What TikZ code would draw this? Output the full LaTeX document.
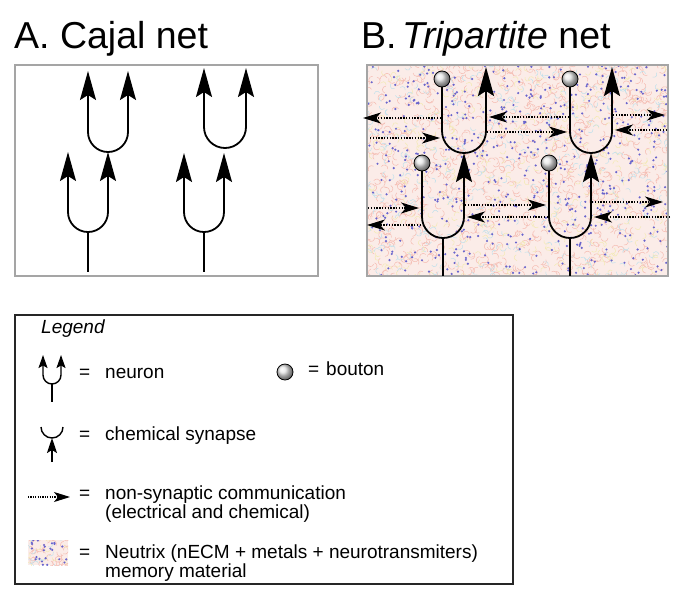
\documentclass[tikz,border=0pt]{standalone}
\usepackage{fontspec}
\setmainfont{Liberation Sans}
\usetikzlibrary{arrows.meta}
\definecolor{boxgray}{RGB}{165,165,165}
\definecolor{neutbg}{RGB}{251,236,232}
\definecolor{squigred}{RGB}{245,188,178}
\definecolor{squigyel}{RGB}{243,234,180}
\definecolor{squigcya}{RGB}{192,225,236}
\definecolor{dotblue}{RGB}{105,100,205}
\tikzset{
  bigtip/.tip={Stealth[length=29pt,width=16pt,inset=5pt]},
  dtip/.tip={Stealth[length=18pt,width=11pt,inset=5pt]},
  smalltip/.tip={Stealth[length=13pt,width=9pt,inset=2.5pt]},
  syntip/.tip={Stealth[length=15pt,width=10pt,inset=3pt]},
  legdtip/.tip={Stealth[length=16pt,width=10pt,inset=4pt]}
}
\newcommand\neutrixpatch[7]{%
  \begin{scope}
    \clip (#1,#2) rectangle ++(#3,-#4);
    \fill[neutbg] (#1,#2) rectangle ++(#3,-#4);
    \foreach \i in {1,...,#5}{
      \pgfmathsetmacro\xa{#1-4+(#3+8)*rnd}
      \pgfmathsetmacro\ya{#2+4-(#4+8)*rnd}
      \pgfmathsetmacro\aa{360*rnd}
      \draw[squigred,line width=0.5pt] (\xa,\ya) arc[start angle=\aa,delta angle=160,radius=3.5];
    }
    \foreach \i in {1,...,#6}{
      \pgfmathsetmacro\xa{#1-4+(#3+8)*rnd}
      \pgfmathsetmacro\ya{#2+4-(#4+8)*rnd}
      \pgfmathsetmacro\aa{360*rnd}
      \draw[squigyel,line width=0.5pt] (\xa,\ya) arc[start angle=\aa,delta angle=160,radius=3];
      \pgfmathsetmacro\xb{#1-4+(#3+8)*rnd}
      \pgfmathsetmacro\yb{#2+4-(#4+8)*rnd}
      \draw[squigcya,line width=0.5pt] (\xb,\yb) arc[start angle=\aa,delta angle=150,radius=3];
    }
    \foreach \i in {1,...,#7}{
      \pgfmathsetmacro\xa{#1+#3*rnd}
      \pgfmathsetmacro\ya{#2-#4*rnd}
      \fill[dotblue] (\xa,\ya) circle[radius=1.2];
    }
  \end{scope}}
\begin{document}
\begin{tikzpicture}[x=1pt,y=1pt,
  nline/.style={line width=1.8pt,black,line cap=butt},
  dotarrow/.style={line width=1.3pt,dash pattern=on 1.4pt off 1.4pt,-{dtip}},
  panelbox/.style={draw=boxgray,line width=1.8pt},
  boutonball/.style={ball color=gray!20,draw=black,line width=0.8pt},
  title/.style={anchor=base west,inner sep=0pt,font=\fontsize{37.5}{40}\selectfont},
  ltext/.style={anchor=base west,inner sep=0pt,font=\fontsize{19}{22}\selectfont}]
\useasboundingbox (0,0) rectangle (690,-598);
\pgfmathsetseed{4242}

% ---------- titles ----------
\node[title] (tA) at (14,-48) {A. Cajal net};
\node[title] (tB) at (361,-48) {B.\,\textit{Tripartite} net};

% ---------- panel A ----------
\draw[panelbox] (15,-65) rectangle (318,-276);
% lower-left neuron
\draw[nline,{bigtip}-{bigtip}] (68,-152) -- (68,-212) arc[start angle=180,end angle=360,radius=20] -- (108,-152);
\draw[nline] (88,-232) -- (88,-272);
% upper-left neuron
\draw[nline,{bigtip}-{bigtip}] (88,-71) -- (88,-132) arc[start angle=180,end angle=360,radius=20] -- (128,-71);
% lower-right neuron
\draw[nline,{bigtip}-{bigtip}] (184,-153) -- (184,-212) arc[start angle=180,end angle=360,radius=20] -- (224,-153);
\draw[nline] (204,-232) -- (204,-272);
% upper-right neuron
\draw[nline,{bigtip}-{bigtip}] (204,-68) -- (204,-127) arc[start angle=180,end angle=360,radius=21] -- (246,-68);

% ---------- panel B ----------
\neutrixpatch{367}{-65}{301}{211}{1000}{380}{540}
\draw[panelbox] (367,-65) rectangle (668,-276);
% upper-left
\draw[nline,-{bigtip}] (442,-87) -- (442,-131) arc[start angle=180,end angle=360,radius=22] -- (486,-67);
\shade[boutonball] (442,-79) circle[radius=8];
% upper-right
\draw[nline,-{bigtip}] (570,-87) -- (570,-132) arc[start angle=180,end angle=360,radius=21] -- (612,-67);
\shade[boutonball] (570,-79) circle[radius=8];
% lower-left
\draw[nline,-{bigtip}] (422,-171) -- (422,-217) arc[start angle=180,end angle=360,radius=21] -- (464,-153);
\draw[nline] (443,-238) -- (443,-276);
\shade[boutonball] (422,-163) circle[radius=8];
% lower-right
\draw[nline,-{bigtip}] (549,-171) -- (549,-217) arc[start angle=180,end angle=360,radius=21] -- (591,-153);
\draw[nline] (570,-238) -- (570,-276);
\shade[boutonball] (549,-163) circle[radius=8];

% dotted non-synaptic arrows
\coordinate (d1a) at (441,-118); \coordinate (d1b) at (363,-118);
\coordinate (d2a) at (569,-117); \coordinate (d2b) at (489,-117);
\coordinate (d3a) at (613,-115); \coordinate (d3b) at (665,-115);
\coordinate (d4a) at (370,-138); \coordinate (d4b) at (440,-138);
\coordinate (d5a) at (487,-132); \coordinate (d5b) at (567,-132);
\coordinate (d6a) at (667,-130); \coordinate (d6b) at (615,-130);
\coordinate (d7a) at (368,-208); \coordinate (d7b) at (419,-208);
\coordinate (d8a) at (421,-225); \coordinate (d8b) at (367,-225);
\coordinate (d9a) at (465,-205); \coordinate (d9b) at (546,-205);
\coordinate (d10a) at (548,-217); \coordinate (d10b) at (467,-217);
\coordinate (d11a) at (592,-202); \coordinate (d11b) at (663,-202);
\coordinate (d12a) at (670,-217); \coordinate (d12b) at (594,-217);
\foreach \k in {1,...,12}{\draw[dotarrow] (d\k a) -- (d\k b);}

% ---------- legend ----------
\draw[line width=1.6pt,draw=black!85] (15,-315) rectangle (513,-584);
\node[ltext,font=\fontsize{19}{22}\selectfont\itshape] (lg) at (41,-333) {Legend};
% neuron icon
\draw[line width=1.4pt,{smalltip}-{smalltip}]
  (43,-355) -- (43,-375) arc[start angle=180,end angle=360,radius=9] -- (61,-355);
\draw[line width=1.4pt] (52,-384) -- (52,-402);
\node[ltext] (e1) at (79,-378) {=};
\node[ltext] (t1) at (105,-378) {neuron};
% bouton icon
\shade[boutonball] (285,-372) circle[radius=8];
\node[ltext] (e2) at (308,-375) {=};
\node[ltext] (t2) at (326,-375) {bouton};
% chemical synapse icon
\draw[line width=1.4pt] (41,-427) arc[start angle=180,end angle=360,radius=11];
\coordinate (sa) at (52,-462); \coordinate (sb) at (52,-438);
\draw[line width=1.4pt,-{syntip}] (sa) -- (sb);
\node[ltext] (e3) at (79,-440) {=};
\node[ltext] (t3) at (105,-440) {chemical synapse};
% dotted arrow icon
\coordinate (na) at (28,-497); \coordinate (nb) at (70,-497);
\draw[line width=1.1pt,dash pattern=on 1.2pt off 1.2pt,-{legdtip}] (na) -- (nb);
\node[ltext] (e4) at (79,-499) {=};
\node[ltext] (t4) at (105,-499) {non-synaptic communication};
\node[ltext] (t4b) at (105,-518) {(electrical and chemical)};
% neutrix swatch
\neutrixpatch{28}{-540}{40}{25}{40}{14}{24}
\node[ltext] (e5) at (79,-558) {=};
\node[ltext] (t5) at (105,-558) {Neutrix (nECM + metals + neurotransmiters)};
\node[ltext] (t5b) at (105,-577) {memory material};
\end{tikzpicture}
\end{document}
